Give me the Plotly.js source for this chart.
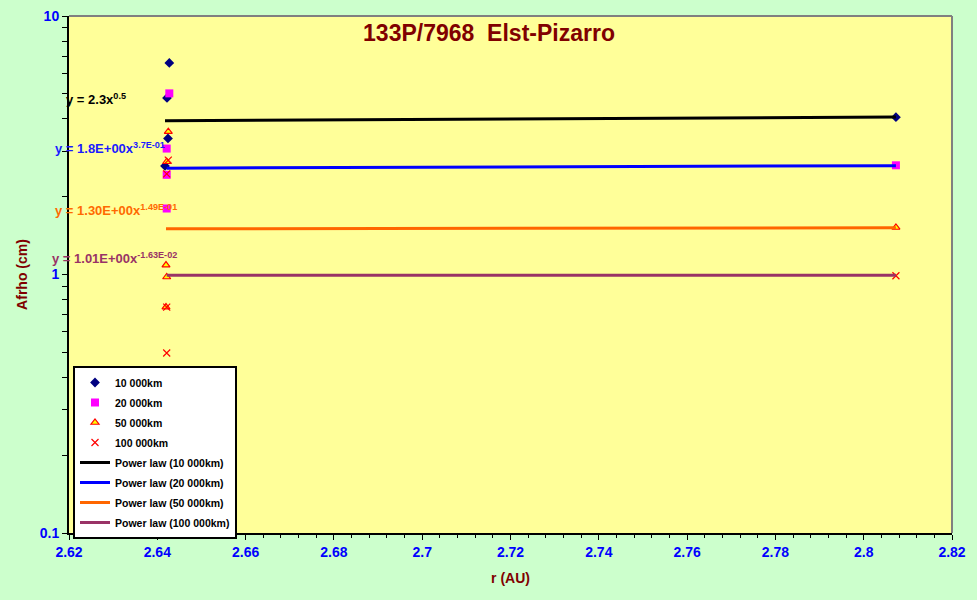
<!DOCTYPE html>
<html><head><meta charset="utf-8">
<script src="https://cdn.plot.ly/plotly-3.0.1.min.js"></script>
<style>html,body{margin:0;padding:0;background:#ffffff;} #chart{width:977px;height:600px;}</style>
</head><body><div id="chart"></div>
<script>
// ---- data ----
const seriesNames = ["10 000km", "20 000km", "50 000km", "100 000km"];
const x10k  = [2.64272, 2.64220, 2.64242, 2.64174, 2.8073];
const y10k  = [6.58, 4.82, 3.36, 2.63, 4.06];
const x20k  = [2.64272, 2.64213, 2.64213, 2.64213, 2.8073];
const y20k  = [5.02, 3.07, 2.43, 1.80, 2.645];
const x50k  = [2.64249, 2.64213, 2.64197, 2.64213, 2.64197, 2.8073];
const y50k  = [3.57, 2.73, 1.088, 0.978, 0.748, 1.52];
const x100k = [2.64249, 2.64213, 2.64213, 2.64213, 2.8073];
const y100k = [2.77, 2.45, 0.748, 0.497, 0.989];

const fitNames = ["Power law (10 000km)", "Power law (20 000km)", "Power law (50 000km)", "Power law (100 000km)"];
const fitCoef = [2.33, 1.8, 1.30, 1.01];
const fitExp  = [0.54, 0.37, 0.149, -0.0163];
const eqLabels = ["y = 2.3x<sup>0.5</sup>", "y = 1.8E+00x<sup>3.7E-01</sup>",
                  "y = 1.30E+00x<sup>1.49E-01</sup>", "y = 1.01E+00x<sup>-1.63E-02</sup>"];

const titleText = "133P/7968\u00a0\u00a0Elst-Pizarro";
const xTitle = "r (AU)";
const yTitle = "Afrho (cm)";
const xTickVals = [2.62, 2.64, 2.66, 2.68, 2.70, 2.72, 2.74, 2.76, 2.78, 2.80, 2.82];
const xTickText = ["2.62", "2.64", "2.66", "2.68", "2.7", "2.72", "2.74", "2.76", "2.78", "2.8", "2.82"];
const yTickVals = [0.1, 1, 10];
const yTickText = ["0.1", "1", "10"];
const yMinorVals = [0.2, 0.3, 0.4, 0.5, 0.6, 0.7, 0.8, 0.9, 2, 3, 4, 5, 6, 7, 8, 9];

// ---- styles ----
const xs = [x10k, x20k, x50k, x100k];
const ys = [y10k, y20k, y50k, y100k];
const markerStyles = [
  {symbol: "diamond", size: 7.5, color: "#000080", line: {width: 0}},
  {symbol: "square", size: 8, color: "#FF00FF", line: {width: 0}},
  {symbol: "triangle-up", size: 7, color: "#FFFF00", line: {color: "#FF0000", width: 1.2}},
  {symbol: "x-thin-open", size: 7, color: "#FF0000", line: {color: "#FF0000", width: 1.2}}
];
const lineColors = ["#000000", "#0000FF", "#FF6600", "#993366"];
const eqColors = ["#000000", "#1a1aff", "#FF6a00", "#993366"];
const eqPos = [[64, 99], [53, 148], [53, 210], [50, 258]];

const L = 69, R = 952, T = 16, B = 533, W = 977, H = 600;
const pw = R - L, ph = B - T;

const traces = [];
for (let i = 0; i < 4; i++) {
  traces.push({
    type: "scatter", mode: "markers", name: seriesNames[i],
    x: xs[i], y: ys[i], marker: markerStyles[i],
    legendgroup: "g" + i, cliponaxis: false
  });
}
for (let i = 0; i < 4; i++) {
  const xmin = Math.min(...xs[i]), xmax = Math.max(...xs[i]);
  const fx = [xmin, xmax];
  const fy = fx.map(v => fitCoef[i] * Math.pow(v, fitExp[i]));
  traces.push({
    type: "scatter", mode: "lines", name: fitNames[i],
    x: fx, y: fy, line: {color: lineColors[i], width: 3},
    legendgroup: "f" + i
  });
}

const annotations = eqLabels.map((t, i) => ({
  text: t, xref: "paper", yref: "paper",
  x: (eqPos[i][0] - L) / pw, y: (B - eqPos[i][1]) / ph,
  xanchor: "left", yanchor: "middle", showarrow: false,
  font: {family: "Liberation Sans, Arial, sans-serif", size: 13, color: eqColors[i], weight: "bold"}
}));

const tickFont = {family: "Liberation Sans Narrow, Arial Narrow, Liberation Sans, sans-serif", size: 14, color: "#0000FF", weight: "bold"};
const axTitleFont = {family: "Liberation Sans, Arial, sans-serif", size: 14, color: "#800000", weight: "bold"};

const layout = {
  width: W, height: H,
  paper_bgcolor: "#CCFFCC", plot_bgcolor: "#FFFF99",
  margin: {l: L, r: W - R, t: T, b: H - B, pad: 0},
  showlegend: true,
  title: {
    text: titleText, xref: "paper", x: (489 - L) / pw, xanchor: "center",
    yref: "container", y: 1 - 33 / H, yanchor: "middle",
    font: {family: "Liberation Sans, Arial, sans-serif", size: 23, color: "#800000", weight: "bold"}
  },
  xaxis: {
    range: [2.62, 2.82], tickmode: "array", tickvals: xTickVals, ticktext: xTickText,
    ticks: "outside", ticklen: 5, tickwidth: 1, tickcolor: "#000000",
    minor: {dtick: 0.004, ticks: "outside", ticklen: 3, tickwidth: 1, tickcolor: "#000000", showgrid: false},
    showline: true, linecolor: "#000000", linewidth: 2, showgrid: false, zeroline: false,
    tickfont: tickFont, title: {text: xTitle, font: axTitleFont, standoff: 14}
  },
  yaxis: {
    type: "log", range: [-1, 1], tickmode: "array", tickvals: yTickVals, ticktext: yTickText,
    ticks: "outside", ticklen: 5, tickwidth: 1, tickcolor: "#000000",
    minor: {tickmode: "array", tickvals: yMinorVals, ticks: "outside", ticklen: 5, tickwidth: 1, tickcolor: "#000000", showgrid: false},
    showline: true, linecolor: "#000000", linewidth: 2, showgrid: false, zeroline: false,
    tickfont: tickFont, title: {text: yTitle, font: axTitleFont, standoff: 9}
  },
  legend: {
    x: (73 - L) / pw, y: (B - 366) / ph, xanchor: "left", yanchor: "top",
    bgcolor: "#FFFFFF", bordercolor: "#000000", borderwidth: 2,
    tracegroupgap: 1, traceorder: "grouped",
    font: {family: "Liberation Sans, Arial, sans-serif", size: 10.5, color: "#000000", weight: "bold"}
  },
  annotations: annotations,
  shapes: [
    {type: "line", xref: "paper", yref: "paper", x0: 0, x1: 1, y0: 1, y1: 1, line: {color: "#808080", width: 2}},
    {type: "line", xref: "paper", yref: "paper", x0: 1, x1: 1, y0: 0, y1: 1, line: {color: "#808080", width: 2}}
  ]
};

Plotly.newPlot("chart", traces, layout, {displayModeBar: false, staticPlot: true});
</script>
</body></html>
